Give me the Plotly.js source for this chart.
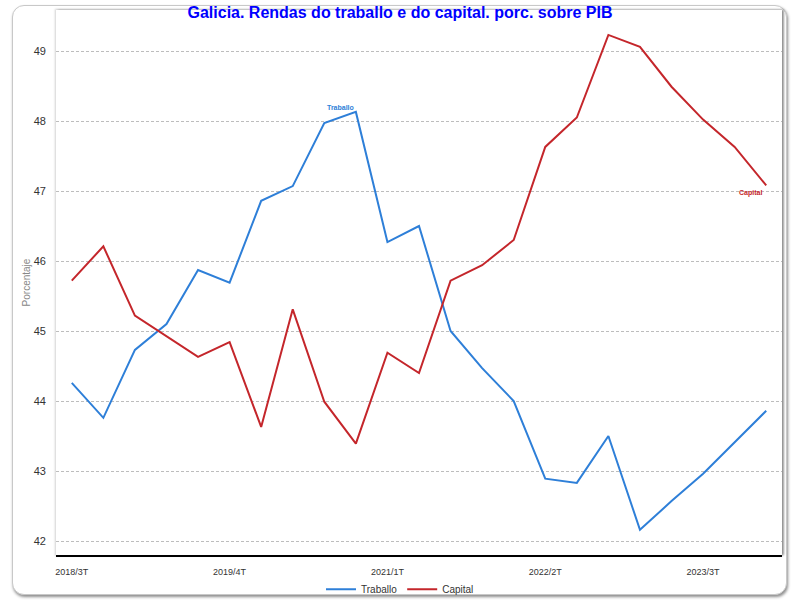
<!DOCTYPE html>
<html>
<head>
<meta charset="utf-8">
<script src="https://cdn.plot.ly/plotly-3.0.1.min.js"></script>
<style>
  html, body { margin: 0; padding: 0; background: #ffffff; }
  #frame { position: absolute; left: 12px; top: 5px; width: 773px; height: 588px;
           border: 1px solid #c8c8c8; border-radius: 12px; background: #fff;
           box-shadow: 1px 2px 3px rgba(0,0,0,0.45); }
  #plotbox { position: absolute; left: 56px; top: 10px; width: 726px; height: 545px;
             background: #fff; box-shadow: 0px 0px 2px 1px rgba(0,0,0,0.18), 2px 0px 2px rgba(0,0,0,0.35); }
  #chart { position: absolute; left: 0; top: 0; width: 800px; height: 600px; }
</style>
</head>
<body>
<div id="frame"></div>
<div id="plotbox"></div>
<div id="chart"></div>
<script>
const quarters = [
  "2018/3T","2018/4T",
  "2019/1T","2019/2T","2019/3T","2019/4T",
  "2020/1T","2020/2T","2020/3T","2020/4T",
  "2021/1T","2021/2T","2021/3T","2021/4T",
  "2022/1T","2022/2T","2022/3T","2022/4T",
  "2023/1T","2023/2T","2023/3T","2023/4T",
  "2024/1T"
];
const traballo = [44.26, 43.76, 44.73, 45.10, 45.87, 45.69, 46.86, 47.07, 47.97, 48.13,
                  46.27, 46.50, 45.00, 44.47, 44.00, 42.89, 42.83, 43.50, 42.16, 42.57,
                  42.96, 43.41, 43.86];
const capital  = [45.72, 46.21, 45.22, 44.93, 44.63, 44.84, 43.63, 45.31, 43.99, 43.39,
                  44.69, 44.40, 45.72, 45.94, 46.30, 47.63, 48.05, 49.23, 49.06, 48.49,
                  48.02, 47.63, 47.08];
const tickLabels = ["2018/3T","2019/4T","2021/1T","2022/2T","2023/3T"];
const yTicks = [42, 43, 44, 45, 46, 47, 48, 49];

const blue = "#2E7FD8";
const red = "#C4262B";
const font = "Liberation Sans, Arial, sans-serif";

const data = [
  { x: quarters, y: traballo, name: "Traballo", type: "scatter", mode: "lines",
    line: { color: blue, width: 2 }, hoverinfo: "skip" },
  { x: quarters, y: capital, name: "Capital", type: "scatter", mode: "lines",
    line: { color: red, width: 2 }, hoverinfo: "skip" }
];

const layout = {
  width: 800, height: 600,
  paper_bgcolor: "rgba(0,0,0,0)",
  plot_bgcolor: "rgba(0,0,0,0)",
  margin: { l: 56, r: 18, t: 10, b: 45, autoexpand: false },
  font: { family: font, color: "#333" },
  title: {
    text: "<b>Galicia. Rendas do traballo e do capital. porc. sobre PIB</b>",
    font: { family: font, size: 16, color: "#0000FF" },
    x: 0.5, xanchor: "center", y: 0.98, yanchor: "middle"
  },
  xaxis: {
    type: "category",
    range: [-0.5, 22.5],
    tickmode: "array", tickvals: tickLabels, ticktext: tickLabels,
    tickfont: { size: 9, color: "#333" },
    showgrid: false, zeroline: false,
    showline: true, linecolor: "#000", linewidth: 2,
    ticks: "", ticklabelstandoff: 7,
    fixedrange: true
  },
  yaxis: {
    range: [41.8, 49.586],
    tickmode: "array", tickvals: yTicks,
    tickfont: { size: 11, color: "#333" },
    showgrid: true, gridcolor: "#bdbdbd", gridwidth: 1, griddash: "3px,2px",
    zeroline: false, showline: false,
    ticks: "", ticklabelstandoff: 9,
    title: { text: "Porcentaje", font: { size: 10, color: "#888" }, standoff: 1 },
    fixedrange: true
  },
  showlegend: true,
  legend: {
    orientation: "h", xref: "container", yref: "container",
    x: 0.5, xanchor: "center", y: 0.018, yanchor: "middle",
    font: { size: 10, color: "#333" }, bgcolor: "rgba(0,0,0,0)",
    itemwidth: 30, tracegroupgap: 0
  },
  annotations: [
    { x: 8.5, y: 48.2, xref: "x", yref: "y", text: "<b>Traballo</b>", showarrow: false,
      font: { size: 7, color: blue, family: font } },
    { x: 21.5, y: 46.97, xref: "x", yref: "y", text: "<b>Capital</b>", showarrow: false,
      font: { size: 7, color: red, family: font } }
  ]
};

Plotly.newPlot("chart", data, layout, { staticPlot: true, displayModeBar: false });
</script>
</body>
</html>
